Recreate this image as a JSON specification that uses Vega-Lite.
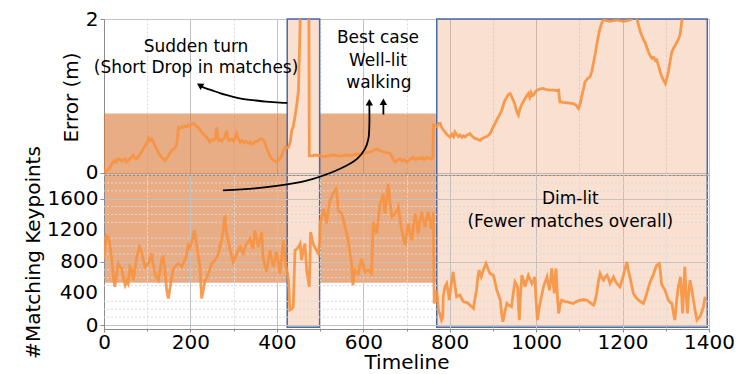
{
  "$schema": "https://vega.github.io/schema/vega-lite/v6.json",
  "padding": {"left": 22, "top": 8, "right": 5, "bottom": 0},
  "background": "white",
  "spacing": 0,
  "bounds": "flush",
  "config": {
    "font": "DejaVu Sans",
    "view": {"stroke": "#8c8c8c", "strokeWidth": 1},
    "axis": {
      "labelFont": "DejaVu Sans",
      "titleFont": "DejaVu Sans",
      "labelFontSize": 20,
      "titleFontSize": 20,
      "titleFontWeight": "normal",
      "labelColor": "#000000",
      "titleColor": "#000000",
      "domainColor": "#8c8c8c",
      "tickColor": "#8c8c8c",
      "labelPadding": 2,
      "labelOverlap": false,
      "labelFlush": false,
      "labelBound": false
    },
    "text": {"font": "DejaVu Sans", "fontSize": 17, "color": "#000000"}
  },
  "datasets": {
    "dark": [
      {"t1": 0, "t2": 424, "e1": 0.77, "e2": -1.432},
      {"t1": 499, "t2": 768, "e1": 0.77, "e2": -1.432}
    ],
    "light": [
      {"t1": 424, "t2": 499, "e1": 2, "e2": -2.01},
      {"t1": 770, "t2": 1396, "e1": 2, "e2": -2.01}
    ],
    "minorK": [
      {"g":100},{"g":200},{"g":300},{"g":500},{"g":600},{"g":700},{"g":900},{"g":1000},{"g":1100},{"g":1300},{"g":1400},{"g":1500},{"g":1700},{"g":1800},{"g":1900}
    ],
    "kLabels": [
      {"t":0,"k":400,"label":"400"},
      {"t":0,"k":1200,"label":"1200"}
    ],
    "err": [
      {"t":0,"e":0.03},{"t":5,"e":0.02},{"t":10,"e":0.04},{"t":15,"e":0.08},{"t":20,"e":0.13},{"t":25,"e":0.16},{"t":29,"e":0.14},{"t":33,"e":0.18},{"t":38,"e":0.17},{"t":42,"e":0.15},{"t":45,"e":0.16},{"t":49,"e":0.18},{"t":52.5,"e":0.14},{"t":57,"e":0.16},{"t":61,"e":0.19},{"t":64,"e":0.2},{"t":68,"e":0.23},{"t":72,"e":0.19},{"t":75.6,"e":0.18},{"t":80,"e":0.21},{"t":84,"e":0.25},{"t":87,"e":0.27},{"t":91,"e":0.31},{"t":95,"e":0.35},{"t":99,"e":0.38},{"t":103,"e":0.45},{"t":106.5,"e":0.42},{"t":110,"e":0.44},{"t":114,"e":0.4},{"t":118,"e":0.35},{"t":122,"e":0.31},{"t":127,"e":0.25},{"t":131,"e":0.22},{"t":133.5,"e":0.2},{"t":137,"e":0.18},{"t":141,"e":0.16},{"t":145,"e":0.19},{"t":149,"e":0.22},{"t":153,"e":0.26},{"t":156.6,"e":0.29},{"t":160,"e":0.3},{"t":164.4,"e":0.33},{"t":168,"e":0.36},{"t":170,"e":0.45},{"t":172,"e":0.59},{"t":177,"e":0.58},{"t":181,"e":0.6},{"t":184,"e":0.59},{"t":188,"e":0.61},{"t":192,"e":0.6},{"t":195,"e":0.62},{"t":199,"e":0.6},{"t":203,"e":0.63},{"t":207,"e":0.64},{"t":211,"e":0.62},{"t":215,"e":0.6},{"t":218,"e":0.59},{"t":222,"e":0.56},{"t":226,"e":0.53},{"t":230,"e":0.5},{"t":234,"e":0.48},{"t":238,"e":0.46},{"t":242,"e":0.42},{"t":245,"e":0.4},{"t":249,"e":0.43},{"t":253,"e":0.42},{"t":257,"e":0.44},{"t":259,"e":0.5},{"t":261,"e":0.59},{"t":263,"e":0.47},{"t":265,"e":0.42},{"t":269,"e":0.43},{"t":272,"e":0.41},{"t":276,"e":0.44},{"t":280,"e":0.46},{"t":282,"e":0.52},{"t":284,"e":0.55},{"t":286,"e":0.47},{"t":289,"e":0.42},{"t":292,"e":0.42},{"t":296,"e":0.44},{"t":300,"e":0.41},{"t":304,"e":0.46},{"t":307,"e":0.51},{"t":310,"e":0.45},{"t":315,"e":0.4},{"t":319,"e":0.42},{"t":323,"e":0.39},{"t":327,"e":0.41},{"t":330,"e":0.4},{"t":334,"e":0.38},{"t":338,"e":0.4},{"t":342,"e":0.37},{"t":346,"e":0.38},{"t":350,"e":0.41},{"t":354,"e":0.4},{"t":357,"e":0.42},{"t":361,"e":0.44},{"t":365,"e":0.44},{"t":369,"e":0.42},{"t":373,"e":0.38},{"t":376.5,"e":0.31},{"t":380,"e":0.27},{"t":384,"e":0.22},{"t":388,"e":0.18},{"t":392,"e":0.16},{"t":396,"e":0.15},{"t":400,"e":0.14},{"t":404,"e":0.16},{"t":408,"e":0.19},{"t":411,"e":0.22},{"t":415,"e":0.28},{"t":419,"e":0.33},{"t":423,"e":0.32},{"t":427,"e":0.33},{"t":431,"e":0.4},{"t":434.5,"e":0.55},{"t":438,"e":0.6},{"t":442,"e":0.73},{"t":446,"e":0.88},{"t":450,"e":1.07},{"t":452,"e":1.5},{"t":454,"e":2.0},{"t":456,"e":2.4},{"t":474,"e":2.4},{"t":475,"e":0.22},{"t":480,"e":0.22},{"t":490,"e":0.23},{"t":500,"e":0.22},{"t":510,"e":0.21},{"t":520,"e":0.22},{"t":530,"e":0.23},{"t":540,"e":0.22},{"t":550,"e":0.22},{"t":560,"e":0.23},{"t":570,"e":0.22},{"t":580,"e":0.24},{"t":593,"e":0.24},{"t":600,"e":0.25},{"t":608,"e":0.26},{"t":616,"e":0.27},{"t":624,"e":0.29},{"t":631,"e":0.31},{"t":638,"e":0.29},{"t":647,"e":0.27},{"t":654,"e":0.26},{"t":662,"e":0.25},{"t":667,"e":0.2},{"t":671,"e":0.16},{"t":674,"e":0.14},{"t":680,"e":0.17},{"t":685,"e":0.18},{"t":690,"e":0.15},{"t":695,"e":0.17},{"t":700,"e":0.14},{"t":705,"e":0.16},{"t":710,"e":0.18},{"t":716,"e":0.2},{"t":721,"e":0.17},{"t":726,"e":0.19},{"t":731,"e":0.18},{"t":736,"e":0.2},{"t":741,"e":0.17},{"t":747,"e":0.2},{"t":752,"e":0.19},{"t":758,"e":0.18},{"t":761,"e":0.2},{"t":762,"e":0.62},{"t":766,"e":0.62},{"t":770,"e":0.6},{"t":774,"e":0.64},{"t":778,"e":0.64},{"t":782,"e":0.58},{"t":786,"e":0.55},{"t":789,"e":0.53},{"t":793,"e":0.5},{"t":797,"e":0.48},{"t":801,"e":0.465},{"t":805,"e":0.5},{"t":809,"e":0.47},{"t":812,"e":0.53},{"t":816,"e":0.5},{"t":820,"e":0.47},{"t":824,"e":0.49},{"t":828,"e":0.46},{"t":832,"e":0.48},{"t":836,"e":0.465},{"t":840,"e":0.49},{"t":844,"e":0.5},{"t":847,"e":0.51},{"t":851,"e":0.48},{"t":855,"e":0.46},{"t":859,"e":0.444},{"t":863,"e":0.44},{"t":867,"e":0.43},{"t":870,"e":0.42},{"t":874,"e":0.44},{"t":878,"e":0.45},{"t":882,"e":0.465},{"t":886,"e":0.47},{"t":890,"e":0.49},{"t":893.5,"e":0.51},{"t":897,"e":0.55},{"t":901,"e":0.6},{"t":905,"e":0.64},{"t":909,"e":0.69},{"t":913,"e":0.73},{"t":917,"e":0.77},{"t":921,"e":0.82},{"t":925,"e":0.9},{"t":928,"e":0.944},{"t":932,"e":0.98},{"t":936,"e":1.02},{"t":940,"e":1.03},{"t":944,"e":0.98},{"t":948,"e":0.93},{"t":951,"e":0.88},{"t":955,"e":0.8},{"t":959,"e":0.75},{"t":962,"e":0.82},{"t":966,"e":0.88},{"t":970,"e":0.92},{"t":974,"e":0.96},{"t":978,"e":1.0},{"t":982,"e":1.03},{"t":985,"e":0.98},{"t":988,"e":1.04},{"t":991,"e":1.0},{"t":994,"e":1.01},{"t":998,"e":1.05},{"t":1001.5,"e":1.074},{"t":1005,"e":1.08},{"t":1010,"e":1.09},{"t":1017,"e":1.096},{"t":1024,"e":1.08},{"t":1032,"e":1.074},{"t":1040,"e":1.075},{"t":1048,"e":1.07},{"t":1052,"e":1.074},{"t":1055,"e":0.92},{"t":1062,"e":0.915},{"t":1071,"e":0.91},{"t":1078,"e":0.905},{"t":1086,"e":0.9},{"t":1092,"e":0.88},{"t":1098,"e":0.835},{"t":1102,"e":0.9},{"t":1106,"e":1.01},{"t":1110,"e":1.1},{"t":1113,"e":1.18},{"t":1118,"e":1.22},{"t":1125,"e":1.25},{"t":1129,"e":1.32},{"t":1133,"e":1.44},{"t":1137,"e":1.55},{"t":1140,"e":1.66},{"t":1144,"e":1.78},{"t":1148,"e":1.88},{"t":1152,"e":1.95},{"t":1156,"e":1.99},{"t":1163,"e":1.98},{"t":1171,"e":1.97},{"t":1179,"e":1.98},{"t":1187,"e":1.99},{"t":1194,"e":1.98},{"t":1202,"e":1.97},{"t":1210,"e":1.98},{"t":1218,"e":1.99},{"t":1225,"e":2.03},{"t":1233,"e":2.01},{"t":1237,"e":1.92},{"t":1241,"e":1.835},{"t":1245,"e":1.78},{"t":1249,"e":1.72},{"t":1252,"e":1.7},{"t":1256,"e":1.63},{"t":1260,"e":1.57},{"t":1264,"e":1.52},{"t":1268,"e":1.49},{"t":1272,"e":1.5},{"t":1276,"e":1.46},{"t":1279,"e":1.47},{"t":1283,"e":1.4},{"t":1287,"e":1.31},{"t":1291,"e":1.25},{"t":1295,"e":1.2},{"t":1299,"e":1.16},{"t":1302,"e":1.22},{"t":1306,"e":1.31},{"t":1310,"e":1.45},{"t":1314,"e":1.57},{"t":1318,"e":1.62},{"t":1322,"e":1.66},{"t":1326,"e":1.7},{"t":1330,"e":1.75},{"t":1333,"e":1.8},{"t":1335,"e":1.88},{"t":1339,"e":2.05},{"t":1342,"e":2.4},{"t":1400,"e":2.4}
    ],
    "kp": [
      {"t":0,"k":842},{"t":5,"k":1136},{"t":10,"k":1115},{"t":14,"k":1000},{"t":18,"k":821},{"t":22,"k":600},{"t":25,"k":484},{"t":29,"k":650},{"t":33,"k":779},{"t":37,"k":740},{"t":41,"k":716},{"t":45,"k":600},{"t":49,"k":505},{"t":53,"k":560},{"t":56,"k":526},{"t":60,"k":737},{"t":64,"k":700},{"t":68,"k":568},{"t":72,"k":720},{"t":76,"k":863},{"t":82,"k":989},{"t":87,"k":926},{"t":91,"k":820},{"t":95,"k":737},{"t":99,"k":760},{"t":103,"k":779},{"t":107,"k":850},{"t":110,"k":905},{"t":114,"k":760},{"t":118,"k":653},{"t":122,"k":600},{"t":126,"k":568},{"t":130,"k":700},{"t":134,"k":842},{"t":137,"k":863},{"t":141,"k":700},{"t":145,"k":442},{"t":149,"k":337},{"t":153,"k":480},{"t":157,"k":610},{"t":160,"k":700},{"t":164,"k":737},{"t":168,"k":760},{"t":172,"k":779},{"t":176,"k":760},{"t":180,"k":737},{"t":185,"k":800},{"t":190,"k":863},{"t":195,"k":1010},{"t":199,"k":980},{"t":203,"k":1052},{"t":206,"k":1120},{"t":209,"k":1200},{"t":212,"k":1100},{"t":215,"k":989},{"t":219,"k":850},{"t":222,"k":737},{"t":226,"k":337},{"t":230,"k":450},{"t":234,"k":568},{"t":238,"k":600},{"t":241,"k":653},{"t":245,"k":700},{"t":249,"k":779},{"t":253,"k":800},{"t":257,"k":821},{"t":261,"k":860},{"t":265,"k":905},{"t":268,"k":1000},{"t":272,"k":1073},{"t":276,"k":1200},{"t":280,"k":1389},{"t":282,"k":1250},{"t":284,"k":1157},{"t":288,"k":1050},{"t":292,"k":947},{"t":296,"k":870},{"t":299,"k":800},{"t":303,"k":850},{"t":307,"k":905},{"t":311,"k":950},{"t":315,"k":989},{"t":318,"k":950},{"t":322,"k":905},{"t":326,"k":980},{"t":330,"k":1031},{"t":334,"k":1060},{"t":338,"k":1094},{"t":342,"k":1020},{"t":345,"k":968},{"t":349,"k":1200},{"t":353,"k":1100},{"t":357,"k":989},{"t":361,"k":1080},{"t":365,"k":1178},{"t":368,"k":863},{"t":372,"k":760},{"t":376,"k":674},{"t":380,"k":800},{"t":384,"k":947},{"t":388,"k":850},{"t":392,"k":737},{"t":396,"k":830},{"t":399,"k":926},{"t":403,"k":800},{"t":407,"k":653},{"t":411,"k":850},{"t":415,"k":1073},{"t":419,"k":821},{"t":423,"k":700},{"t":427,"k":568},{"t":430,"k":189},{"t":434,"k":200},{"t":438,"k":231},{"t":440,"k":600},{"t":442,"k":947},{"t":446,"k":960},{"t":450,"k":989},{"t":454,"k":1031},{"t":457,"k":821},{"t":461,"k":950},{"t":465,"k":1031},{"t":469,"k":694},{"t":473,"k":550},{"t":475,"k":484},{"t":477,"k":900},{"t":478,"k":1178},{"t":481,"k":1100},{"t":484,"k":1031},{"t":488,"k":980},{"t":492,"k":947},{"t":496,"k":905},{"t":499,"k":1050},{"t":500,"k":1284},{"t":504,"k":1380},{"t":508,"k":1473},{"t":512,"k":1380},{"t":515,"k":1284},{"t":519,"k":1450},{"t":523,"k":1578},{"t":527,"k":1620},{"t":531,"k":1683},{"t":537,"k":1725},{"t":540,"k":1600},{"t":542,"k":1452},{"t":546,"k":1430},{"t":550,"k":1410},{"t":554,"k":1330},{"t":558,"k":1241},{"t":562,"k":1150},{"t":565,"k":1073},{"t":569,"k":920},{"t":573,"k":779},{"t":576,"k":505},{"t":579,"k":620},{"t":581,"k":694},{"t":585,"k":670},{"t":589,"k":653},{"t":592,"k":740},{"t":596,"k":842},{"t":600,"k":760},{"t":604,"k":674},{"t":608,"k":690},{"t":612,"k":694},{"t":616,"k":670},{"t":619,"k":653},{"t":623,"k":1305},{"t":627,"k":1220},{"t":631,"k":1157},{"t":635,"k":1350},{"t":639,"k":1536},{"t":643,"k":1600},{"t":646,"k":1662},{"t":650,"k":1410},{"t":654,"k":1600},{"t":658,"k":1789},{"t":662,"k":1550},{"t":666,"k":1368},{"t":670,"k":1390},{"t":674,"k":1410},{"t":678,"k":1450},{"t":681,"k":1494},{"t":685,"k":1350},{"t":689,"k":1200},{"t":693,"k":1100},{"t":697,"k":1010},{"t":700,"k":1150},{"t":704,"k":1284},{"t":708,"k":1180},{"t":712,"k":1073},{"t":716,"k":1250},{"t":720,"k":1410},{"t":724,"k":1300},{"t":727,"k":1157},{"t":731,"k":1300},{"t":735,"k":1431},{"t":739,"k":1330},{"t":743,"k":1241},{"t":746,"k":1330},{"t":750,"k":1431},{"t":754,"k":1320},{"t":758,"k":1221},{"t":760,"k":1330},{"t":762,"k":1431},{"t":764,"k":274},{"t":767,"k":350},{"t":770,"k":442},{"t":774,"k":189},{"t":778,"k":126},{"t":781,"k":63},{"t":784,"k":105},{"t":785,"k":358},{"t":789,"k":484},{"t":793,"k":526},{"t":797,"k":400},{"t":799,"k":316},{"t":803,"k":500},{"t":808,"k":674},{"t":812,"k":500},{"t":816,"k":358},{"t":820,"k":370},{"t":824,"k":379},{"t":828,"k":330},{"t":832,"k":295},{"t":837,"k":290},{"t":843,"k":274},{"t":849,"k":240},{"t":855,"k":210},{"t":858,"k":320},{"t":862,"k":442},{"t":865,"k":600},{"t":868,"k":694},{"t":873,"k":610},{"t":878,"k":700},{"t":884,"k":779},{"t":888,"k":720},{"t":893,"k":652},{"t":897,"k":640},{"t":901,"k":631},{"t":905,"k":540},{"t":909,"k":442},{"t":913,"k":380},{"t":917,"k":316},{"t":920,"k":150},{"t":923,"k":42},{"t":927,"k":150},{"t":932,"k":274},{"t":937,"k":250},{"t":943,"k":231},{"t":947,"k":400},{"t":951,"k":547},{"t":954,"k":520},{"t":957,"k":484},{"t":959,"k":250},{"t":961,"k":63},{"t":964,"k":400},{"t":967,"k":631},{"t":971,"k":560},{"t":974,"k":484},{"t":978,"k":560},{"t":982,"k":631},{"t":986,"k":580},{"t":990,"k":526},{"t":994,"k":570},{"t":997,"k":610},{"t":1000,"k":300},{"t":1003,"k":63},{"t":1006,"k":180},{"t":1009,"k":274},{"t":1013,"k":380},{"t":1017,"k":484},{"t":1021,"k":550},{"t":1025,"k":610},{"t":1028,"k":520},{"t":1031,"k":442},{"t":1034,"k":600},{"t":1036,"k":716},{"t":1039,"k":550},{"t":1042,"k":400},{"t":1044,"k":600},{"t":1046,"k":716},{"t":1049,"k":400},{"t":1052,"k":147},{"t":1055,"k":250},{"t":1059,"k":316},{"t":1065,"k":300},{"t":1071,"k":295},{"t":1078,"k":285},{"t":1086,"k":274},{"t":1094,"k":300},{"t":1102,"k":316},{"t":1110,"k":320},{"t":1117,"k":316},{"t":1125,"k":280},{"t":1133,"k":252},{"t":1137,"k":320},{"t":1140,"k":400},{"t":1144,"k":550},{"t":1148,"k":652},{"t":1152,"k":600},{"t":1156,"k":568},{"t":1160,"k":610},{"t":1164,"k":631},{"t":1168,"k":580},{"t":1171,"k":526},{"t":1175,"k":570},{"t":1179,"k":610},{"t":1183,"k":560},{"t":1187,"k":526},{"t":1191,"k":500},{"t":1194,"k":484},{"t":1197,"k":540},{"t":1200,"k":589},{"t":1205,"k":700},{"t":1210,"k":800},{"t":1213,"k":700},{"t":1217,"k":610},{"t":1221,"k":500},{"t":1225,"k":400},{"t":1231,"k":350},{"t":1237,"k":316},{"t":1243,"k":290},{"t":1248,"k":274},{"t":1252,"k":330},{"t":1256,"k":400},{"t":1260,"k":480},{"t":1264,"k":547},{"t":1268,"k":600},{"t":1271,"k":631},{"t":1275,"k":700},{"t":1279,"k":758},{"t":1285,"k":779},{"t":1288,"k":650},{"t":1290,"k":526},{"t":1294,"k":480},{"t":1298,"k":442},{"t":1302,"k":380},{"t":1306,"k":316},{"t":1310,"k":290},{"t":1314,"k":274},{"t":1318,"k":150},{"t":1321,"k":63},{"t":1325,"k":300},{"t":1329,"k":484},{"t":1332,"k":560},{"t":1334,"k":610},{"t":1337,"k":350},{"t":1339,"k":147},{"t":1342,"k":500},{"t":1344,"k":737},{"t":1347,"k":400},{"t":1350,"k":147},{"t":1353,"k":400},{"t":1356,"k":568},{"t":1360,"k":450},{"t":1364,"k":316},{"t":1368,"k":180},{"t":1372,"k":63},{"t":1376,"k":90},{"t":1379,"k":105},{"t":1383,"k":160},{"t":1387,"k":231},{"t":1391,"k":358}
    ],
    "turnCurve": [
      {"i":0,"t":424,"e":0.909},{"i":1,"t":407,"e":0.912},{"i":2,"t":375,"e":0.925},{"i":3,"t":345.6,"e":0.944},{"i":4,"t":320,"e":0.962},{"i":5,"t":299,"e":0.987},{"i":6,"t":280,"e":1.015},{"i":7,"t":261,"e":1.05},{"i":8,"t":245,"e":1.08},{"i":9,"t":230,"e":1.11},{"i":10,"t":222,"e":1.135}
    ],
    "turnHead": [{"t":221.5,"e":1.138,"a":301}],
    "walkArrow": [{"i":0,"t":646.5,"e":0.757},{"i":1,"t":646.5,"e":0.9}],
    "walkHead": [{"t":646.5,"e":0.924,"a":0}],
    "bestCurve": [
      {"i":0,"t":275.5,"k":1705},{"i":1,"t":349.5,"k":1730},{"i":2,"t":423.6,"k":1780},{"i":3,"t":483.8,"k":1852},{"i":4,"t":546.3,"k":1979},{"i":5,"t":585.6,"k":2105},{"i":6,"t":604,"k":2231},{"i":7,"t":611.8,"k":2357},{"i":8,"t":614,"k":2525},{"i":9,"t":614,"k":2790}
    ],
    "bestHead": [{"t":614,"k":2822,"a":0}],
    "topNotes": [
      {"t":213,"e":1.57,"label":"Sudden turn"},
      {"t":213,"e":1.3,"label":"(Short Drop in matches)"},
      {"t":634,"e":1.69,"label":"Best case"},
      {"t":634,"e":1.39,"label":"Well-lit"},
      {"t":636,"e":1.1,"label":"walking"}
    ],
    "bottomNotes": [
      {"t":1079,"k":1537,"label":"Dim-lit"},
      {"t":1079,"k":1241,"label":"(Fewer matches overall)"}
    ]
  },
  "vconcat": [
    {
      "width": 605,
      "height": 156,
      "layer": [
        {
          "data": {"name": "dark"},
          "mark": {"type": "rect", "clip": false, "fill": "#da7735", "opacity": 0.6},
          "encoding": {
            "x": {"field": "t1", "type": "quantitative",
              "scale": {"domain": [0, 1400], "nice": false, "zero": false},
              "axis": {
                "values": [0,50,100,150,200,250,300,350,400,450,500,550,600,650,700,750,800,850,900,950,1000,1050,1100,1150,1200,1250,1300,1350,1400],
                "labels": false, "ticks": false, "domain": false, "title": null,
                "gridColor": {"condition": {"test": "datum.value % 200 !== 0", "value": "#dadada"}, "value": "#c2c2c2"},
                "gridDash": {"condition": {"test": "datum.value % 200 !== 0", "value": [2, 2]}, "value": []}
              }},
            "x2": {"field": "t2"},
            "y": {"field": "e1", "type": "quantitative",
              "scale": {"domain": [-0.03, 2], "nice": false, "zero": false},
              "axis": {
                "values": [0,0.2,0.4,0.6,0.8,1,1.2,1.4,1.6,1.8,2],
                "format": "d",
                "labelOverlap": false,
                "labelExpr": "datum.value % 1 === 0 ? datum.label : ''",
                "title": "Error (m)",
                "tickSize": {"condition": {"test": "datum.value % 1 !== 0", "value": 2}, "value": 4},
                "gridColor": {"condition": {"test": "datum.value % 1 !== 0", "value": "#dadada"}, "value": "#c2c2c2"},
                "gridDash": {"condition": {"test": "datum.value % 1 !== 0", "value": [2, 2]}, "value": []}
              }},
            "y2": {"field": "e2"}
          }
        },
        {
          "data": {"name": "light"},
          "mark": {"type": "rect", "clip": false, "fill": "#ee9862", "fillOpacity": 0.3, "stroke": "#4a6aa8", "strokeWidth": 1.5},
          "encoding": {
            "x": {"field": "t1", "type": "quantitative"},
            "x2": {"field": "t2"},
            "y": {"field": "e1", "type": "quantitative"},
            "y2": {"field": "e2"}
          }
        },
        {
          "data": {"name": "err"},
          "mark": {"type": "line", "clip": true, "stroke": "#f7923f", "strokeWidth": 2.8, "opacity": 0.9},
          "encoding": {
            "x": {"field": "t", "type": "quantitative"},
            "y": {"field": "e", "type": "quantitative"}
          }
        },
        {
          "data": {"name": "turnCurve"},
          "mark": {"type": "line", "clip": false, "stroke": "#000000", "strokeWidth": 1.8, "interpolate": "catmull-rom"},
          "encoding": {
            "x": {"field": "t", "type": "quantitative"},
            "y": {"field": "e", "type": "quantitative"},
            "order": {"field": "i", "type": "quantitative"}
          }
        },
        {
          "data": {"name": "turnHead"},
          "mark": {"type": "point", "shape": "triangle-up", "filled": true, "color": "#000000", "size": 55, "opacity": 1},
          "encoding": {
            "x": {"field": "t", "type": "quantitative"},
            "y": {"field": "e", "type": "quantitative"},
            "angle": {"field": "a", "type": "quantitative", "scale": null}
          }
        },
        {
          "data": {"name": "walkArrow"},
          "mark": {"type": "line", "clip": false, "stroke": "#000000", "strokeWidth": 1.8},
          "encoding": {
            "x": {"field": "t", "type": "quantitative"},
            "y": {"field": "e", "type": "quantitative"},
            "order": {"field": "i", "type": "quantitative"}
          }
        },
        {
          "data": {"name": "walkHead"},
          "mark": {"type": "point", "shape": "triangle-up", "filled": true, "color": "#000000", "size": 55, "opacity": 1},
          "encoding": {
            "x": {"field": "t", "type": "quantitative"},
            "y": {"field": "e", "type": "quantitative"}
          }
        },
        {
          "data": {"name": "topNotes"},
          "mark": {"type": "text", "align": "center", "baseline": "alphabetic"},
          "encoding": {
            "x": {"field": "t", "type": "quantitative"},
            "y": {"field": "e", "type": "quantitative"},
            "text": {"field": "label", "type": "nominal"}
          }
        }
      ]
    },
    {
      "width": 605,
      "height": 154,
      "layer": [
        {
          "data": {"name": "minorK"},
          "mark": {"type": "rule", "stroke": "#dadada", "strokeWidth": 1, "strokeDash": [2, 2]},
          "encoding": {
            "y": {"field": "g", "type": "quantitative"}
          }
        },
        {
          "data": {"name": "kp"},
          "mark": {"type": "line", "clip": true, "stroke": "#f7923f", "strokeWidth": 2.8, "opacity": 0.9},
          "encoding": {
            "x": {"field": "t", "type": "quantitative",
              "scale": {"domain": [0, 1400], "nice": false, "zero": false},
              "axis": {
                "values": [0,50,100,150,200,250,300,350,400,450,500,550,600,650,700,750,800,850,900,950,1000,1050,1100,1150,1200,1250,1300,1350,1400],
                "format": "d",
                "labelOverlap": false,
                "labelExpr": "datum.value % 200 === 0 ? datum.label : ''",
                "title": "Timeline",
                "titlePadding": 0,
                "labelPadding": 0,
                "tickSize": {"condition": {"test": "datum.value % 200 !== 0", "value": 2}, "value": 3},
                "gridColor": {"condition": {"test": "datum.value % 200 !== 0", "value": "#dadada"}, "value": "#c2c2c2"},
                "gridDash": {"condition": {"test": "datum.value % 200 !== 0", "value": [2, 2]}, "value": []}
              }},
            "y": {"field": "k", "type": "quantitative",
              "scale": {"domain": [-50, 1900], "nice": false, "zero": false},
              "axis": {
                "values": [0, 400, 800, 1200, 1600],
                "format": "d",
                "labelOverlap": false,
                "title": "#Matching Keypoints",
                "tickSize": 4,
                "gridColor": "#c2c2c2"
              }}
          }
        },
        {
          "data": {"name": "kLabels"},
          "mark": {"type": "text", "align": "right", "baseline": "middle", "fontSize": 20, "dx": -6, "clip": false},
          "encoding": {
            "x": {"field": "t", "type": "quantitative"},
            "y": {"field": "k", "type": "quantitative"},
            "text": {"field": "label", "type": "nominal"}
          }
        },
        {
          "data": {"name": "bottomNotes"},
          "mark": {"type": "text", "align": "center", "baseline": "alphabetic"},
          "encoding": {
            "x": {"field": "t", "type": "quantitative"},
            "y": {"field": "k", "type": "quantitative"},
            "text": {"field": "label", "type": "nominal"}
          }
        },
        {
          "data": {"name": "bestCurve"},
          "mark": {"type": "line", "clip": false, "stroke": "#000000", "strokeWidth": 1.8, "interpolate": "catmull-rom"},
          "encoding": {
            "x": {"field": "t", "type": "quantitative"},
            "y": {"field": "k", "type": "quantitative"},
            "order": {"field": "i", "type": "quantitative"}
          }
        },
        {
          "data": {"name": "bestHead"},
          "mark": {"type": "point", "shape": "triangle-up", "filled": true, "color": "#000000", "size": 55, "opacity": 1, "clip": false},
          "encoding": {
            "x": {"field": "t", "type": "quantitative"},
            "y": {"field": "k", "type": "quantitative"}
          }
        }
      ]
    }
  ]
}
